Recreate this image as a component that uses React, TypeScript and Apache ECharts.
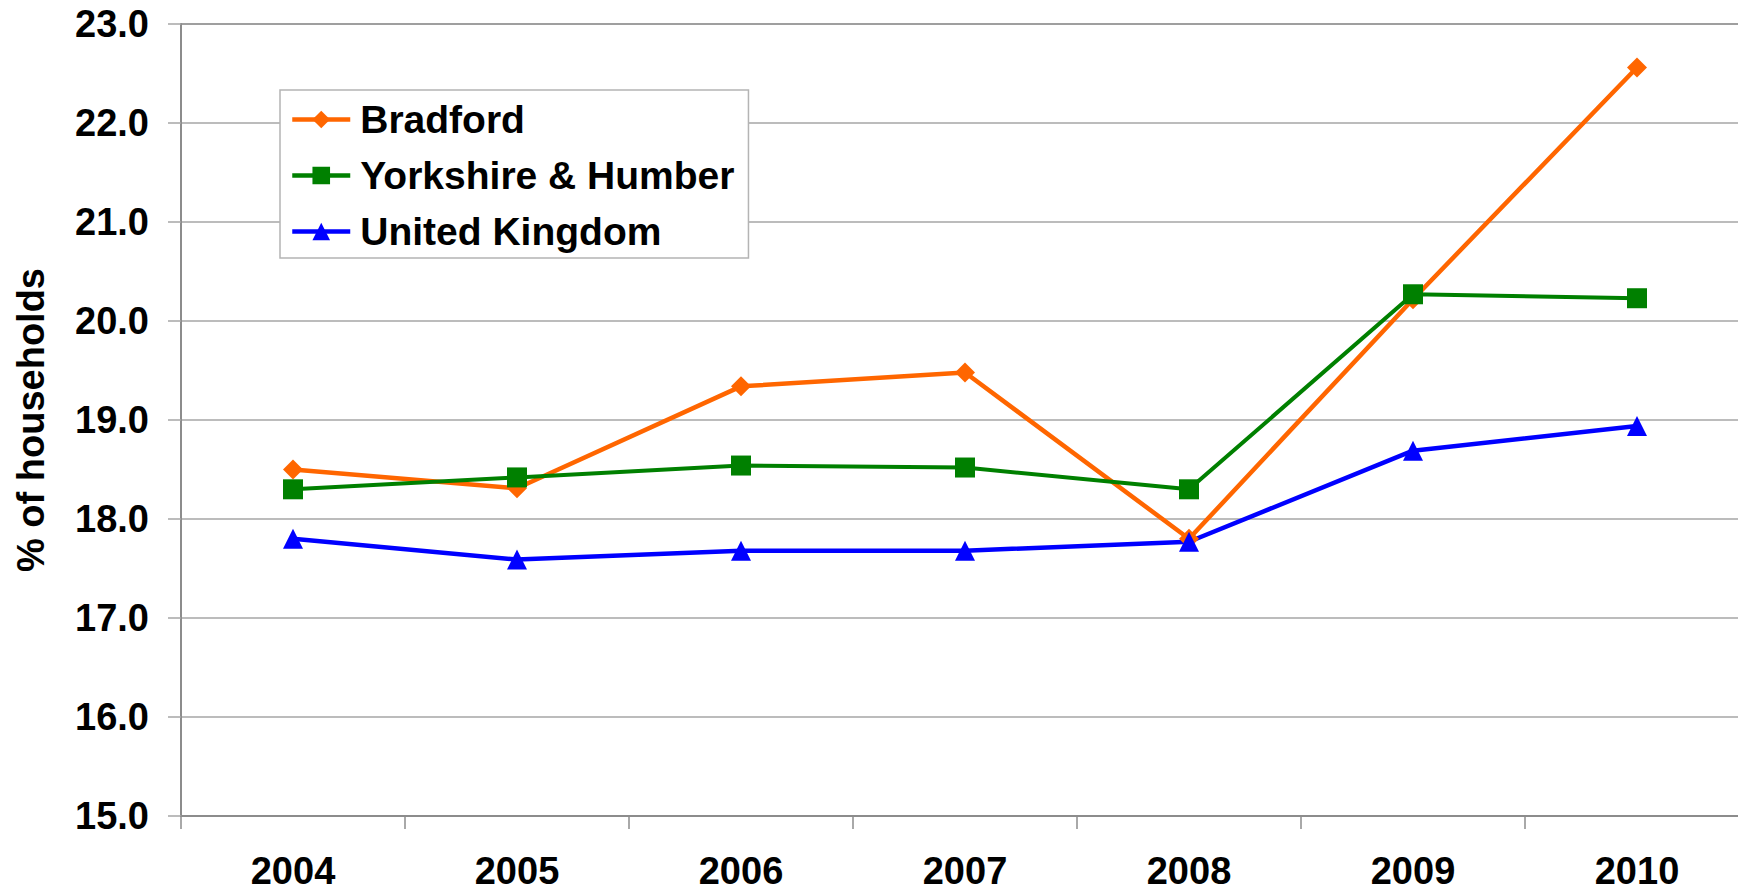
import React, { useEffect, useRef } from 'react';
import * as echarts from 'echarts';

const years = ['2004', '2005', '2006', '2007', '2008', '2009', '2010'];
const bradford = [18.5, 18.31, 19.34, 19.48, 17.8, 20.22, 22.56];
const yorkshire = [18.3, 18.42, 18.54, 18.52, 18.3, 20.27, 20.23];
const unitedKingdom = [17.8, 17.59, 17.68, 17.68, 17.77, 18.69, 18.94];

const FONT = '"Liberation Sans", Arial, sans-serif';

const App: React.FC = () => {
    const chartRef = useRef<HTMLDivElement>(null);

    useEffect(() => {
        // the plot runs a little past the right edge of the picture
        document.body.style.margin = '0';
        document.body.style.overflow = 'hidden';
        document.documentElement.style.overflow = 'hidden';
        const chartDom = chartRef.current!;
        const myChart = echarts.init(chartDom, undefined, { renderer: 'svg' });

        const lineSeries = (name: string, data: number[], color: string, symbol: string, size: number, width: number) => ({
            name,
            type: 'line' as const,
            data,
            symbol,
            symbolSize: size,
            color,
            lineStyle: { color, width },
            itemStyle: { color },
        });

        const option: echarts.EChartsOption = {
            animation: false,
            backgroundColor: '#ffffff',
            textStyle: { fontFamily: FONT },
            grid: {
                left: 181,
                top: 24,
                right: 0,
                bottom: 77,
                show: true,
                borderColor: '#8c8c8c',
                borderWidth: 2,
            },
            legend: {
                orient: 'vertical',
                left: 280,
                top: 90,
                padding: [10, 14, 7, 10],
                itemGap: 17,
                itemWidth: 58,
                itemHeight: 22,
                borderColor: '#b4b4b4',
                borderWidth: 1.5,
                backgroundColor: '#ffffff',
                lineStyle: { width: 4.5 },
                textStyle: {
                    fontFamily: FONT,
                    fontSize: 39,
                    fontWeight: 'bold',
                    color: '#000',
                    lineHeight: 38,
                    padding: [0, 0, 0, 5],
                },
            },
            xAxis: {
                type: 'category',
                data: years,
                boundaryGap: true,
                axisLine: { lineStyle: { color: '#8c8c8c', width: 2 } },
                axisTick: { show: true, length: 13, lineStyle: { color: '#8c8c8c', width: 1.5 } },
                axisLabel: {
                    margin: 36,
                    fontFamily: FONT,
                    fontSize: 38,
                    fontWeight: 'bold',
                    color: '#000',
                    lineHeight: 38,
                },
            },
            yAxis: {
                type: 'value',
                min: 15,
                max: 23,
                interval: 1,
                name: '% of households',
                nameLocation: 'middle',
                nameGap: 131,
                nameTextStyle: {
                    fontFamily: FONT,
                    fontSize: 38,
                    fontWeight: 'bold',
                    color: '#000',
                },
                axisLine: { show: true, lineStyle: { color: '#8c8c8c', width: 2 } },
                axisTick: { show: true, length: 13, lineStyle: { color: '#a6a6a6', width: 1.5 } },
                splitLine: { lineStyle: { color: '#a6a6a6', width: 1.5 } },
                axisLabel: {
                    margin: 32,
                    fontFamily: FONT,
                    fontSize: 38,
                    fontWeight: 'bold',
                    color: '#000',
                    formatter: (v: number) => v.toFixed(1),
                },
            },
            series: [
                lineSeries('Bradford', bradford, '#ff6600', 'diamond', 20, 4.5),
                lineSeries('Yorkshire & Humber', yorkshire, '#008000', 'rect', 20, 4),
                lineSeries('United Kingdom', unitedKingdom, '#0000ff', 'triangle', 20, 4.5),
            ],
        };

        myChart.setOption(option);

        return () => {
            myChart.dispose();
        };
    }, []);

    return <div ref={chartRef} style={{ width: 1749, height: 893 }} />;
};

export default App;
